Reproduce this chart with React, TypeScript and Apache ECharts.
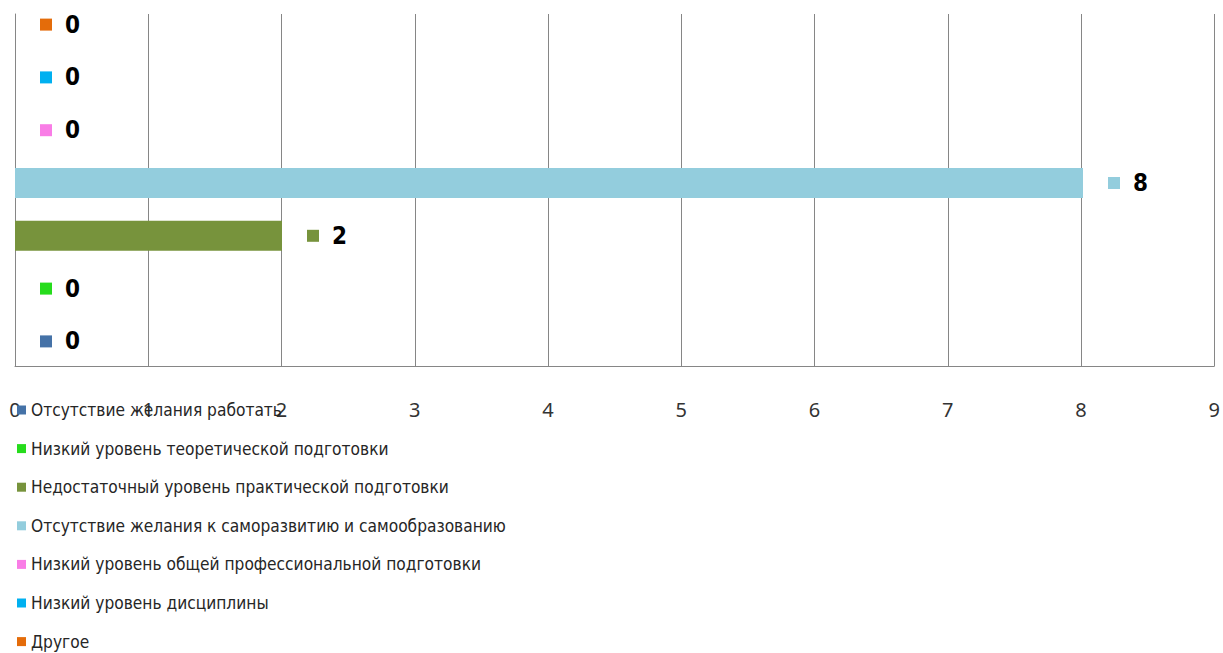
import React, { useEffect, useRef } from "react";
import * as echarts from "echarts";

const seriesNames = [
  "Отсутствие желания работать",
  "Низкий уровень теоретической подготовки",
  "Недостаточный уровень практической подготовки",
  "Отсутствие желания к саморазвитию и самообразованию",
  "Низкий уровень общей профессиональной подготовки",
  "Низкий уровень дисциплины",
  "Другое",
];
const seriesValues = [0, 0, 2, 8, 0, 0, 0];
const seriesColors = ["#4572A7", "#26DC1C", "#77933C", "#93CDDD", "#F97DE6", "#00B0F0", "#E46C0A"];
const xTicks = [0, 1, 2, 3, 4, 5, 6, 7, 8, 9];

const NARROW = '"Liberation Sans Narrow", "DejaVu Sans Condensed", "Arial Narrow", sans-serif';

export default function App() {
  const ref = useRef<HTMLDivElement>(null);
  useEffect(() => {
    if (!ref.current) return;
    const chart = echarts.init(ref.current, null, { renderer: "svg" });
    const series = seriesNames
      .map((name, i) => ({
        name,
        type: "bar",
        xAxisIndex: 1,
        yAxisIndex: 1,
        data: [seriesValues[i]],
        barWidth: 30,
        barGap: "76%",
        itemStyle: { color: seriesColors[i] },
        label: {
          show: true,
          position: "right",
          distance: 25,
          formatter: (p: any) => "{k| }{v|" + p.value + "}",
          rich: {
            k: { width: 12, height: 12, backgroundColor: seriesColors[i], fontSize: 1 },
            v: { fontSize: 24, fontWeight: "bold", fontFamily: NARROW, color: "#000", padding: [0, 0, 0, 13] },
          },
        },
      }))
      .reverse();
    chart.setOption({
      animation: false,
      backgroundColor: "#ffffff",
      legend: {
        orient: "vertical",
        left: 17,
        top: 401,
        padding: 0,
        itemWidth: 9,
        itemHeight: 9,
        itemGap: 20.6,
        icon: "rect",
        data: seriesNames,
        textStyle: { fontFamily: NARROW, fontSize: 17.2, color: "#262626", lineHeight: 18 },
      },
      grid: [
        { left: 15, right: 6.5, top: 14, bottom: 287 },
        { left: 15, right: 6.5, top: -1, bottom: 287 },
      ],
      xAxis: [
        {
          type: "value",
          gridIndex: 0,
          min: 0,
          max: 9,
          interval: 1,
          axisLine: { show: true, lineStyle: { color: "#868686", width: 1 } },
          axisTick: { show: false },
          splitLine: { show: true, lineStyle: { color: "#868686", width: 1 } },
          axisLabel: {
            margin: 33,
            fontFamily: '"Noto Sans", sans-serif',
            fontSize: 20,
            color: "#333333",
            formatter: (v: number) => (xTicks.includes(v) ? String(v) : ""),
          },
        },
        {
          type: "value",
          gridIndex: 1,
          min: 0,
          max: 9,
          show: false,
        },
      ],
      yAxis: [
        {
          type: "value",
          gridIndex: 0,
          min: 0,
          max: 1,
          axisLine: { show: true, lineStyle: { color: "#868686", width: 1 } },
          axisTick: { show: false },
          axisLabel: { show: false },
          splitLine: { show: false },
        },
        {
          type: "category",
          gridIndex: 1,
          data: [""],
          show: false,
        },
      ],
      series,
    });
    return () => chart.dispose();
  }, []);
  return <div ref={ref} style={{ position: "fixed", left: 0, top: 0, width: 1223, height: 653 }} />;
}
